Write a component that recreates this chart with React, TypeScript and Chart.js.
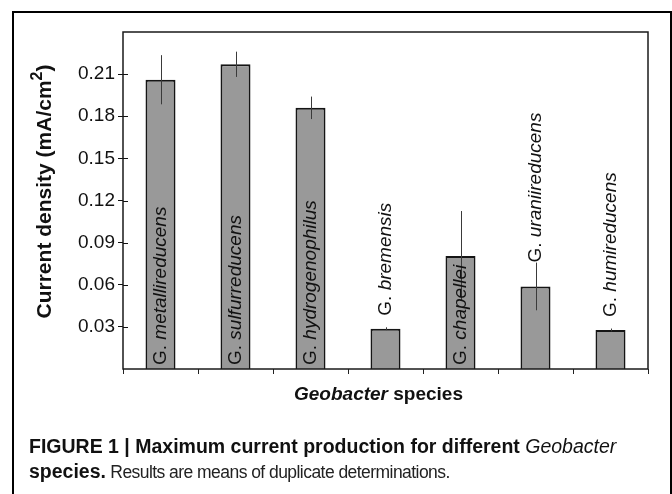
import React, { useEffect, useRef } from "react";
import { Chart, registerables } from "chart.js";

Chart.register(...registerables);

// ---------- data ----------
const genusAbbrev = "G.";
const species = [
  "metallireducens",
  "sulfurreducens",
  "hydrogenophilus",
  "bremensis",
  "chapellei",
  "uraniireducens",
  "humireducens",
];
const currentDensity = [0.206, 0.217, 0.186, 0.0287, 0.0805, 0.0588, 0.0278];
const errorValues = [0.0175, 0.009, 0.008, 0.001, 0.032, 0.017, 0.001];
const yTickValues = [0.03, 0.06, 0.09, 0.12, 0.15, 0.18, 0.21];
const yMin = 0;
const yMax = 0.24;
const yTitleMain = "Current density (mA/cm";
const yTitleSup = "2";
const yTitleEnd = ")";
const xTitleItalic = "Geobacter";
const xTitleRest = " species";
const captionBold = "FIGURE 1 | Maximum current production for different ";
const captionItalic = "Geobacter";
const captionLine2Bold = "species.";
const captionLine2 = " Results are means of duplicate determinations.";

const FONT = "'Liberation Sans', Arial, Helvetica, sans-serif";

const decorPlugin = {
  id: "decor",
  afterDatasetsDraw(chart: any) {
    const ctx = chart.ctx;
    const meta = chart.getDatasetMeta(0);
    const y = chart.scales.y;
    const area = chart.chartArea;
    ctx.save();
    // error bars
    ctx.strokeStyle = "#3a3a3a";
    ctx.lineWidth = 1;
    meta.data.forEach((bar: any, i: number) => {
      const v = currentDensity[i];
      const e = errorValues[i];
      const x = Math.round(bar.x) + 0.5;
      ctx.beginPath();
      ctx.moveTo(x, y.getPixelForValue(v + e));
      ctx.lineTo(x, y.getPixelForValue(v - e));
      ctx.stroke();
    });
    // rotated species labels
    const fs = 19;
    const regFont = `${fs}px ${FONT}`;
    const itFont = `italic ${fs}px ${FONT}`;
    ctx.fillStyle = "#111";
    meta.data.forEach((bar: any, i: number) => {
      const prefix = genusAbbrev + " ";
      ctx.font = regFont;
      const w1 = ctx.measureText(prefix).width;
      ctx.font = itFont;
      const w2 = ctx.measureText(species[i]).width;
      const L = w1 + w2;
      const barTop = bar.y;
      const errTop = y.getPixelForValue(currentDensity[i] + errorValues[i]);
      let start: number;
      if (area.bottom - barTop > L + 2) {
        start = area.bottom - 4;
      } else {
        start = Math.min(barTop - 13, errTop);
      }
      ctx.save();
      ctx.translate(bar.x, start);
      ctx.rotate(-Math.PI / 2);
      ctx.textBaseline = "middle";
      ctx.textAlign = "left";
      ctx.font = regFont;
      ctx.fillText(prefix, 0, 0);
      ctx.font = itFont;
      ctx.fillText(species[i], w1, 0);
      ctx.restore();
    });
    ctx.restore();
  },
  afterDraw(chart: any) {
    const ctx = chart.ctx;
    const area = chart.chartArea;
    const y = chart.scales.y;
    ctx.save();
    // plot frame
    ctx.strokeStyle = "#1a1a1a";
    ctx.lineWidth = 1.5;
    ctx.strokeRect(area.left, area.top, area.right - area.left, area.bottom - area.top);
    // inner half of cross ticks on y axis
    ctx.lineWidth = 1;
    ctx.strokeStyle = "#111";
    yTickValues.forEach((v) => {
      const py = Math.round(y.getPixelForValue(v)) + 0.5;
      ctx.beginPath();
      ctx.moveTo(area.left, py);
      ctx.lineTo(area.left + 5, py);
      ctx.stroke();
    });
    // y title
    const bigFont = `bold 21px ${FONT}`;
    const supFont = `bold 16px ${FONT}`;
    ctx.font = bigFont;
    const wa = ctx.measureText(yTitleMain).width;
    const wc = ctx.measureText(yTitleEnd).width;
    ctx.font = supFont;
    const wb = ctx.measureText(yTitleSup).width;
    const total = wa + wb + wc;
    const cy = (area.top + area.bottom) / 2 - 9;
    ctx.save();
    ctx.translate(51, cy);
    ctx.rotate(-Math.PI / 2);
    ctx.textBaseline = "alphabetic";
    ctx.textAlign = "left";
    ctx.fillStyle = "#111";
    let sx = -total / 2;
    ctx.font = bigFont;
    ctx.fillText(yTitleMain, sx, 0);
    sx += wa;
    ctx.font = supFont;
    ctx.fillText(yTitleSup, sx, -9);
    sx += wb;
    ctx.font = bigFont;
    ctx.fillText(yTitleEnd, sx, 0);
    ctx.restore();
    // x title
    const xi = `italic bold 19px ${FONT}`;
    const xb = `bold 19px ${FONT}`;
    ctx.font = xi;
    const w1 = ctx.measureText(xTitleItalic).width;
    ctx.font = xb;
    const w2 = ctx.measureText(xTitleRest).width;
    const cx = (area.left + area.right) / 2 - 7;
    const ty = 395;
    ctx.textBaseline = "middle";
    ctx.textAlign = "left";
    ctx.fillStyle = "#111";
    ctx.font = xi;
    ctx.fillText(xTitleItalic, cx - (w1 + w2) / 2, ty);
    ctx.font = xb;
    ctx.fillText(xTitleRest, cx - (w1 + w2) / 2 + w1, ty);
    ctx.restore();
  },
};

export default function App() {
  const canvasRef = useRef<HTMLCanvasElement | null>(null);

  useEffect(() => {
    if (!canvasRef.current) return;
    const chart = new Chart(canvasRef.current, {
      type: "bar",
      data: {
        labels: species.map((s) => `${genusAbbrev} ${s}`),
        datasets: [
          {
            data: currentDensity,
            backgroundColor: "#999999",
            borderColor: "#151515",
            borderWidth: 2,
            barPercentage: 0.4,
            categoryPercentage: 1.0,
          },
        ],
      },
      options: {
        animation: false,
        responsive: false,
        devicePixelRatio: 1,
        layout: { padding: { left: 0, top: 32, right: 24, bottom: 115 } },
        plugins: {
          legend: { display: false },
          tooltip: { enabled: false },
        },
        scales: {
          x: {
            type: "category",
            offset: true,
            border: { display: false },
            grid: {
              display: true,
              offset: true,
              drawOnChartArea: false,
              drawTicks: true,
              tickLength: 5,
              color: "#222",
              lineWidth: 1,
            },
            ticks: { display: false },
            afterFit: (axis: any) => {
              axis.height = 10;
            },
          },
          y: {
            type: "linear",
            min: yMin,
            max: yMax,
            border: { display: false },
            grid: {
              display: true,
              drawOnChartArea: false,
              drawTicks: true,
              tickLength: 5,
              color: "#111",
              lineWidth: 1,
            },
            afterBuildTicks: (axis: any) => {
              axis.ticks = yTickValues.map((v) => ({ value: v }));
            },
            ticks: {
              padding: 3,
              color: "#111",
              font: { family: FONT, size: 19 },
              callback: (v: any) => Number(v).toFixed(2),
            },
            afterFit: (axis: any) => {
              axis.width = 123;
            },
          },
        },
      },
      plugins: [decorPlugin],
    });
    return () => chart.destroy();
  }, []);

  return (
    <div
      style={{
        position: "fixed",
        left: 0,
        top: 0,
        width: 672,
        height: 494,
        overflow: "hidden",
        background: "#fff",
      }}
    >
      <div
        style={{
          position: "absolute",
          left: 12,
          top: 11,
          width: 660,
          height: 600,
          boxSizing: "border-box",
          border: "2px solid #000",
        }}
      />
      <canvas
        ref={canvasRef}
        width={672}
        height={494}
        style={{ position: "absolute", left: 0, top: 0, width: 672, height: 494 }}
      />
      <div
        style={{
          position: "absolute",
          left: 29,
          top: 434,
          fontFamily: FONT,
          fontSize: 19.5,
          lineHeight: "25px",
          color: "#111",
          whiteSpace: "nowrap",
        }}
      >
        <div>
          <span style={{ fontWeight: "bold" }}>{captionBold}</span>
          <span style={{ fontStyle: "italic" }}>{captionItalic}</span>
        </div>
        <div>
          <span style={{ fontWeight: "bold" }}>{captionLine2Bold}</span>
          <span style={{ color: "#222", fontSize: 17.5, letterSpacing: "-0.55px" }}>{captionLine2}</span>
        </div>
      </div>
    </div>
  );
}
